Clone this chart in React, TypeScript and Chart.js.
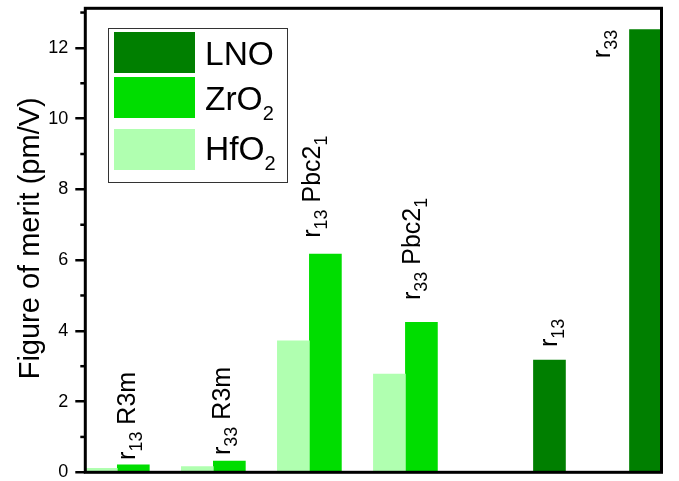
import React, { useEffect, useRef } from 'react';
import { Chart, registerables } from 'chart.js';

Chart.register(...registerables);

// ---- data ----
const categories = ['r13 R3m', 'r33 R3m', 'r13 Pbc21', 'r33 Pbc21', 'r13 LNO', 'r33 LNO'];
const hfo2Values: (number | null)[] = [0.11, 0.16, 3.72, 2.78, null, null];
const zro2Values: (number | null)[] = [0.21, 0.32, 6.17, 4.24, null, null];
const lnoValues: (number | null)[] = [null, null, null, null, 3.17, 12.52];
const yTickValues = [0, 2, 4, 6, 8, 10, 12];
const yMinorTickValues = [1, 3, 5, 7, 9, 11, 13];
const yTitle = 'Figure of merit (pm/V)';

// label texts: segments, sub = subscript
type Seg = { t: string; sub?: boolean };
const barLabels: Seg[][] = [
  [{ t: 'r' }, { t: '13', sub: true }, { t: ' R3m' }],
  [{ t: 'r' }, { t: '33', sub: true }, { t: ' R3m' }],
  [{ t: 'r' }, { t: '13', sub: true }, { t: ' Pbc2' }, { t: '1', sub: true }],
  [{ t: 'r' }, { t: '33', sub: true }, { t: ' Pbc2' }, { t: '1', sub: true }],
  [{ t: 'r' }, { t: '13', sub: true }],
  [{ t: 'r' }, { t: '33', sub: true }],
];
// anchor of each label: category offset (fraction of category width) and start value
const labelCatOffset = [0.017, 0.005, -0.06, -0.018, 0.41, -0.04];
const labelStartValue = [0.35, 0.49, 6.63, 4.87, 3.54, 11.71];

const legendItems: { segs: Seg[]; color: string }[] = [
  { segs: [{ t: 'LNO' }], color: '#007f00' },
  { segs: [{ t: 'ZrO' }, { t: '2', sub: true }], color: '#00dd00' },
  { segs: [{ t: 'HfO' }, { t: '2', sub: true }], color: '#b0ffb0' },
];

const COLORS = { hfo2: '#b0ffb0', zro2: '#00dd00', lno: '#007f00' };
const FONT = "'Liberation Sans', Arial, sans-serif";

function drawSegs(ctx: CanvasRenderingContext2D, segs: Seg[], x: number, y: number, main: number, sub: number, shift: number) {
  let cx = x;
  for (const s of segs) {
    ctx.font = `${s.sub ? sub : main}px ${FONT}`;
    ctx.fillText(s.t, cx, y + (s.sub ? shift : 0));
    cx += ctx.measureText(s.t).width;
  }
}

const decorPlugin = {
  id: 'decor',
  afterDraw(chart: any) {
    const ctx: CanvasRenderingContext2D = chart.ctx;
    const ca = chart.chartArea;
    const xs = chart.scales.x;
    const ys = chart.scales.y;
    ctx.save();
    // frame
    ctx.strokeStyle = '#000';
    ctx.lineWidth = 3;
    ctx.strokeRect(ca.left, ca.top, ca.right - ca.left, ca.bottom - ca.top);
    // minor ticks
    ctx.lineWidth = 2.5;
    for (const v of yMinorTickValues) {
      const py = ys.getPixelForValue(v);
      ctx.beginPath();
      ctx.moveTo(ca.left - 5, py);
      ctx.lineTo(ca.left, py);
      ctx.stroke();
    }
    ctx.fillStyle = '#000';
    ctx.textBaseline = 'alphabetic';
    ctx.textAlign = 'left';
    // y title
    ctx.save();
    ctx.font = `29px ${FONT}`;
    ctx.translate(38.5, (ca.top + ca.bottom) / 2 - 2);
    ctx.rotate(-Math.PI / 2);
    ctx.textAlign = 'center';
    ctx.fillText(yTitle, 0, 0);
    ctx.restore();
    // bar labels
    const catW = (ca.right - ca.left) / categories.length;
    barLabels.forEach((segs, i) => {
      const px = xs.getPixelForValue(i) + labelCatOffset[i] * catW;
      const py = ys.getPixelForValue(labelStartValue[i]);
      ctx.save();
      ctx.translate(px, py);
      ctx.rotate(-Math.PI / 2);
      drawSegs(ctx, segs, 0, 0, 25, 18, 7);
      ctx.restore();
    });
    // legend
    ctx.lineWidth = 1;
    ctx.strokeStyle = '#333';
    ctx.strokeRect(108.5, 28.5, 179, 154);
    const swY = [32, 77, 129];
    const txY = [65, 110, 160];
    legendItems.forEach((it, i) => {
      ctx.fillStyle = it.color;
      ctx.fillRect(114, swY[i], 81, 41);
      ctx.fillStyle = '#000';
      drawSegs(ctx, it.segs, 205, txY[i], 33.5, 20, 10);
    });
    ctx.restore();
  },
};

export default function App() {
  const ref = useRef<HTMLCanvasElement | null>(null);
  useEffect(() => {
    document.body.style.margin = '0';
    const canvas = ref.current!;
    const chart = new Chart(canvas, {
      type: 'bar',
      data: {
        labels: categories,
        datasets: [
          { label: 'HfO2', data: hfo2Values, backgroundColor: COLORS.hfo2, borderWidth: 0 },
          { label: 'ZrO2', data: zro2Values, backgroundColor: COLORS.zro2, borderWidth: 0 },
          { label: 'LNO', data: lnoValues, backgroundColor: COLORS.lno, borderWidth: 0 },
        ],
      },
      options: {
        responsive: false,
        animation: false,
        devicePixelRatio: 1,
        layout: { padding: { left: 0, top: 8.3, right: 17.5, bottom: 8.7 } },
        datasets: { bar: { categoryPercentage: 1, barPercentage: 1 } },
        plugins: { legend: { display: false }, tooltip: { enabled: false } },
        scales: {
          x: { display: false, offset: true },
          y: {
            min: 0,
            max: 13.12,
            afterFit: (s: any) => { s.width = 85.3; s.paddingTop = 0; s.paddingBottom = 0; },
            afterBuildTicks: (s: any) => { s.ticks = yTickValues.map((v) => ({ value: v })); },
            ticks: { stepSize: 2, color: '#000', padding: 7, font: { family: FONT, size: 18 } },
            grid: { drawOnChartArea: false, drawTicks: true, tickLength: 10, color: '#000', lineWidth: 2.5 },
            border: { display: false },
          },
        },
      } as any,
      plugins: [decorPlugin],
    });
    return () => chart.destroy();
  }, []);
  return (
    <div style={{ width: 679, height: 481 }}>
      <canvas ref={ref} width={679} height={481} style={{ display: 'block' }} />
    </div>
  );
}
